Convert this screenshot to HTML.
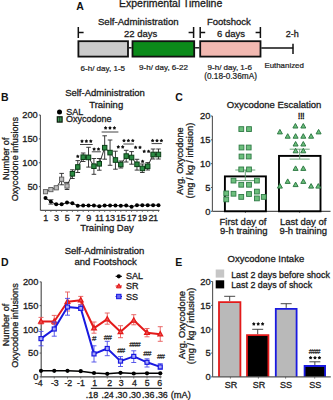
<!DOCTYPE html>
<html><head><meta charset="utf-8"><style>
html,body{margin:0;padding:0;background:#fff;width:333px;height:400px;overflow:hidden}
svg{display:block}
text{font-family:"Liberation Sans", sans-serif;}
</style></head><body>
<svg width="333" height="400" viewBox="0 0 333 400">
<rect x="0" y="0" width="333" height="400" fill="#fff"/>
<text x="76.30" y="9.90" font-size="10.5" text-anchor="start" font-weight="bold" fill="#111" stroke="#111" stroke-width="0.0" >A</text>
<text x="119.00" y="7.40" font-size="10.5" text-anchor="start" font-weight="normal" fill="#1c1c1c" stroke="#1c1c1c" stroke-width="0.3" >Experimental Timeline</text>
<text x="97.90" y="24.80" font-size="9.65" text-anchor="start" font-weight="normal" fill="#1c1c1c" stroke="#1c1c1c" stroke-width="0.3" >Self-Administration</text>
<text x="140.60" y="37.00" font-size="9.5" text-anchor="middle" font-weight="normal" fill="#1c1c1c" stroke="#1c1c1c" stroke-width="0.3" >22 days</text>
<text x="207.00" y="25.00" font-size="9.5" text-anchor="start" font-weight="normal" fill="#1c1c1c" stroke="#1c1c1c" stroke-width="0.3" >Footshock</text>
<text x="231.00" y="37.00" font-size="9.5" text-anchor="middle" font-weight="normal" fill="#1c1c1c" stroke="#1c1c1c" stroke-width="0.3" >6 days</text>
<text x="292.20" y="37.10" font-size="9.0" text-anchor="middle" font-weight="normal" fill="#1c1c1c" stroke="#1c1c1c" stroke-width="0.3" >2-h</text>
<line x1="78.30" y1="27.00" x2="78.30" y2="38.00" stroke="#111" stroke-width="1.5" />
<line x1="78.30" y1="32.50" x2="83.60" y2="32.50" stroke="#111" stroke-width="1.5" />
<line x1="193.60" y1="27.00" x2="193.60" y2="38.00" stroke="#111" stroke-width="1.5" />
<line x1="188.60" y1="32.50" x2="193.60" y2="32.50" stroke="#111" stroke-width="1.5" />
<line x1="200.20" y1="27.00" x2="200.20" y2="38.00" stroke="#111" stroke-width="1.5" />
<line x1="200.20" y1="32.50" x2="205.20" y2="32.50" stroke="#111" stroke-width="1.5" />
<line x1="260.40" y1="27.00" x2="260.40" y2="38.00" stroke="#111" stroke-width="1.5" />
<line x1="255.60" y1="32.50" x2="260.40" y2="32.50" stroke="#111" stroke-width="1.5" />
<rect x="78.40" y="41.20" width="49.60" height="15.40" fill="#cbcbcb" stroke="#111" stroke-width="1.8" />
<rect x="132.50" y="41.20" width="61.70" height="15.40" fill="#0b8a1a" stroke="#111" stroke-width="1.8" />
<rect x="200.20" y="41.20" width="60.30" height="15.40" fill="#f2b9b1" stroke="#111" stroke-width="1.8" />
<line x1="128.90" y1="47.80" x2="131.60" y2="47.80" stroke="#111" stroke-width="1.4" />
<line x1="195.10" y1="47.80" x2="199.30" y2="47.80" stroke="#111" stroke-width="1.4" />
<line x1="261.30" y1="47.90" x2="293.20" y2="47.90" stroke="#111" stroke-width="1.5" />
<line x1="293.00" y1="43.80" x2="293.00" y2="54.00" stroke="#111" stroke-width="1.5" />
<text x="80.50" y="70.60" font-size="8.05" text-anchor="start" font-weight="normal" fill="#1c1c1c" stroke="#1c1c1c" stroke-width="0.22" >6-h/ day, 1-5</text>
<text x="139.10" y="70.20" font-size="8.0" text-anchor="start" font-weight="normal" fill="#1c1c1c" stroke="#1c1c1c" stroke-width="0.22" >9-h/ day, 6-22</text>
<text x="207.60" y="70.20" font-size="8.0" text-anchor="start" font-weight="normal" fill="#1c1c1c" stroke="#1c1c1c" stroke-width="0.22" >9-h/ day, 1-6</text>
<text x="204.20" y="79.30" font-size="8.25" text-anchor="start" font-weight="normal" fill="#1c1c1c" stroke="#1c1c1c" stroke-width="0.22" >(0.18-0.36mA)</text>
<text x="264.40" y="68.10" font-size="7.9" text-anchor="start" font-weight="normal" fill="#1c1c1c" stroke="#1c1c1c" stroke-width="0.22" >Euthanized</text>
<text x="0.90" y="100.60" font-size="10.5" text-anchor="start" font-weight="bold" fill="#111" stroke="#111" stroke-width="0.0" >B</text>
<text x="105.00" y="96.00" font-size="9.5" text-anchor="middle" font-weight="normal" fill="#1c1c1c" stroke="#1c1c1c" stroke-width="0.3" >Self-Administration</text>
<text x="106.20" y="107.70" font-size="9.5" text-anchor="middle" font-weight="normal" fill="#1c1c1c" stroke="#1c1c1c" stroke-width="0.3" >Training</text>
<circle cx="59.50" cy="112.00" r="2.5" fill="#000" stroke="none" stroke-width="1"/>
<rect x="57.30" y="116.80" width="4.80" height="5.30" fill="#3a9a55" stroke="#0a1a0a" stroke-width="1.2" />
<line x1="59.70" y1="116.80" x2="59.70" y2="122.10" stroke="#222" stroke-width="0.8" />
<text x="66.20" y="114.60" font-size="9.0" text-anchor="start" font-weight="normal" fill="#1c1c1c" stroke="#1c1c1c" stroke-width="0.3" >SAL</text>
<text x="65.90" y="122.20" font-size="9.0" text-anchor="start" font-weight="normal" fill="#1c1c1c" stroke="#1c1c1c" stroke-width="0.3" >Oxycodone</text>
<text x="0" y="0" font-size="9.1" text-anchor="middle" fill="#1c1c1c" stroke="#1c1c1c" stroke-width="0.3" transform="translate(8.60,158.80) rotate(-90)">Number of</text>
<text x="0" y="0" font-size="9.1" text-anchor="middle" fill="#1c1c1c" stroke="#1c1c1c" stroke-width="0.3" transform="translate(18.00,159.10) rotate(-90)">Oxycodone infusions</text>
<line x1="40.40" y1="115.00" x2="40.40" y2="210.40" stroke="#555" stroke-width="1.1" />
<line x1="40.40" y1="210.40" x2="159.50" y2="210.40" stroke="#555" stroke-width="1.2" />
<line x1="38.90" y1="186.62" x2="40.40" y2="186.62" stroke="#555" stroke-width="1.0" />
<text x="37.80" y="189.93" font-size="9.3" text-anchor="end" font-weight="normal" fill="#1c1c1c" stroke="#1c1c1c" stroke-width="0.3" >50</text>
<line x1="38.90" y1="162.75" x2="40.40" y2="162.75" stroke="#555" stroke-width="1.0" />
<text x="37.80" y="166.05" font-size="9.3" text-anchor="end" font-weight="normal" fill="#1c1c1c" stroke="#1c1c1c" stroke-width="0.3" >100</text>
<line x1="38.90" y1="138.88" x2="40.40" y2="138.88" stroke="#555" stroke-width="1.0" />
<text x="37.80" y="142.18" font-size="9.3" text-anchor="end" font-weight="normal" fill="#1c1c1c" stroke="#1c1c1c" stroke-width="0.3" >150</text>
<line x1="38.90" y1="115.00" x2="40.40" y2="115.00" stroke="#555" stroke-width="1.0" />
<text x="37.80" y="118.30" font-size="9.3" text-anchor="end" font-weight="normal" fill="#1c1c1c" stroke="#1c1c1c" stroke-width="0.3" >200</text>
<line x1="45.50" y1="210.40" x2="45.50" y2="212.00" stroke="#555" stroke-width="0.8" />
<line x1="50.88" y1="210.40" x2="50.88" y2="212.00" stroke="#555" stroke-width="0.8" />
<line x1="56.26" y1="210.40" x2="56.26" y2="212.00" stroke="#555" stroke-width="0.8" />
<line x1="61.64" y1="210.40" x2="61.64" y2="212.00" stroke="#555" stroke-width="0.8" />
<line x1="67.02" y1="210.40" x2="67.02" y2="212.00" stroke="#555" stroke-width="0.8" />
<line x1="72.40" y1="210.40" x2="72.40" y2="212.00" stroke="#555" stroke-width="0.8" />
<line x1="77.78" y1="210.40" x2="77.78" y2="212.00" stroke="#555" stroke-width="0.8" />
<line x1="83.16" y1="210.40" x2="83.16" y2="212.00" stroke="#555" stroke-width="0.8" />
<line x1="88.54" y1="210.40" x2="88.54" y2="212.00" stroke="#555" stroke-width="0.8" />
<line x1="93.92" y1="210.40" x2="93.92" y2="212.00" stroke="#555" stroke-width="0.8" />
<line x1="99.30" y1="210.40" x2="99.30" y2="212.00" stroke="#555" stroke-width="0.8" />
<line x1="104.68" y1="210.40" x2="104.68" y2="212.00" stroke="#555" stroke-width="0.8" />
<line x1="110.06" y1="210.40" x2="110.06" y2="212.00" stroke="#555" stroke-width="0.8" />
<line x1="115.44" y1="210.40" x2="115.44" y2="212.00" stroke="#555" stroke-width="0.8" />
<line x1="120.82" y1="210.40" x2="120.82" y2="212.00" stroke="#555" stroke-width="0.8" />
<line x1="126.20" y1="210.40" x2="126.20" y2="212.00" stroke="#555" stroke-width="0.8" />
<line x1="131.58" y1="210.40" x2="131.58" y2="212.00" stroke="#555" stroke-width="0.8" />
<line x1="136.96" y1="210.40" x2="136.96" y2="212.00" stroke="#555" stroke-width="0.8" />
<line x1="142.34" y1="210.40" x2="142.34" y2="212.00" stroke="#555" stroke-width="0.8" />
<line x1="147.72" y1="210.40" x2="147.72" y2="212.00" stroke="#555" stroke-width="0.8" />
<line x1="153.10" y1="210.40" x2="153.10" y2="212.00" stroke="#555" stroke-width="0.8" />
<line x1="158.48" y1="210.40" x2="158.48" y2="212.00" stroke="#555" stroke-width="0.8" />
<text x="45.50" y="220.70" font-size="9.0" text-anchor="middle" font-weight="normal" fill="#1c1c1c" stroke="#1c1c1c" stroke-width="0.3" letter-spacing="-0.3">1</text>
<text x="56.26" y="220.70" font-size="9.0" text-anchor="middle" font-weight="normal" fill="#1c1c1c" stroke="#1c1c1c" stroke-width="0.3" letter-spacing="-0.3">3</text>
<text x="67.02" y="220.70" font-size="9.0" text-anchor="middle" font-weight="normal" fill="#1c1c1c" stroke="#1c1c1c" stroke-width="0.3" letter-spacing="-0.3">5</text>
<text x="77.78" y="220.70" font-size="9.0" text-anchor="middle" font-weight="normal" fill="#1c1c1c" stroke="#1c1c1c" stroke-width="0.3" letter-spacing="-0.3">7</text>
<text x="88.54" y="220.70" font-size="9.0" text-anchor="middle" font-weight="normal" fill="#1c1c1c" stroke="#1c1c1c" stroke-width="0.3" letter-spacing="-0.3">9</text>
<text x="99.30" y="220.70" font-size="9.0" text-anchor="middle" font-weight="normal" fill="#1c1c1c" stroke="#1c1c1c" stroke-width="0.3" letter-spacing="-0.3">11</text>
<text x="110.06" y="220.70" font-size="9.0" text-anchor="middle" font-weight="normal" fill="#1c1c1c" stroke="#1c1c1c" stroke-width="0.3" letter-spacing="-0.3">13</text>
<text x="120.82" y="220.70" font-size="9.0" text-anchor="middle" font-weight="normal" fill="#1c1c1c" stroke="#1c1c1c" stroke-width="0.3" letter-spacing="-0.3">15</text>
<text x="131.58" y="220.70" font-size="9.0" text-anchor="middle" font-weight="normal" fill="#1c1c1c" stroke="#1c1c1c" stroke-width="0.3" letter-spacing="-0.3">17</text>
<text x="142.34" y="220.70" font-size="9.0" text-anchor="middle" font-weight="normal" fill="#1c1c1c" stroke="#1c1c1c" stroke-width="0.3" letter-spacing="-0.3">19</text>
<text x="153.10" y="220.70" font-size="9.0" text-anchor="middle" font-weight="normal" fill="#1c1c1c" stroke="#1c1c1c" stroke-width="0.3" letter-spacing="-0.3">21</text>
<text x="107.00" y="231.00" font-size="9.5" text-anchor="middle" font-weight="normal" fill="#1c1c1c" stroke="#1c1c1c" stroke-width="0.3" >Training Day</text>
<polyline points="45.50,198.00 50.88,201.80 56.26,204.30 61.64,204.30 67.02,202.50 72.40,203.30 77.78,205.80 83.16,205.50 88.54,205.50 93.92,205.50 99.30,206.30 104.68,205.50 110.06,205.50 115.44,205.50 120.82,205.80 126.20,205.50 131.58,206.80 136.96,205.20 142.34,205.20 147.72,205.20 153.10,205.20 158.48,205.20" fill="none" stroke="#111" stroke-width="1.0" stroke-linejoin="round" />
<line x1="48.38" y1="199.60" x2="53.38" y2="199.60" stroke="#333" stroke-width="0.8" />
<line x1="48.38" y1="204.20" x2="53.38" y2="204.20" stroke="#333" stroke-width="0.8" />
<circle cx="45.50" cy="198.00" r="2.0" fill="#000" stroke="none" stroke-width="1"/>
<circle cx="50.88" cy="201.80" r="2.0" fill="#000" stroke="none" stroke-width="1"/>
<circle cx="56.26" cy="204.30" r="2.0" fill="#000" stroke="none" stroke-width="1"/>
<circle cx="61.64" cy="204.30" r="2.0" fill="#000" stroke="none" stroke-width="1"/>
<circle cx="67.02" cy="202.50" r="2.0" fill="#000" stroke="none" stroke-width="1"/>
<circle cx="72.40" cy="203.30" r="2.0" fill="#000" stroke="none" stroke-width="1"/>
<circle cx="77.78" cy="205.80" r="2.0" fill="#000" stroke="none" stroke-width="1"/>
<circle cx="83.16" cy="205.50" r="2.0" fill="#000" stroke="none" stroke-width="1"/>
<circle cx="88.54" cy="205.50" r="2.0" fill="#000" stroke="none" stroke-width="1"/>
<circle cx="93.92" cy="205.50" r="2.0" fill="#000" stroke="none" stroke-width="1"/>
<circle cx="99.30" cy="206.30" r="2.0" fill="#000" stroke="none" stroke-width="1"/>
<circle cx="104.68" cy="205.50" r="2.0" fill="#000" stroke="none" stroke-width="1"/>
<circle cx="110.06" cy="205.50" r="2.0" fill="#000" stroke="none" stroke-width="1"/>
<circle cx="115.44" cy="205.50" r="2.0" fill="#000" stroke="none" stroke-width="1"/>
<circle cx="120.82" cy="205.80" r="2.0" fill="#000" stroke="none" stroke-width="1"/>
<circle cx="126.20" cy="205.50" r="2.0" fill="#000" stroke="none" stroke-width="1"/>
<circle cx="131.58" cy="206.80" r="2.0" fill="#000" stroke="none" stroke-width="1"/>
<circle cx="136.96" cy="205.20" r="2.0" fill="#000" stroke="none" stroke-width="1"/>
<circle cx="142.34" cy="205.20" r="2.0" fill="#000" stroke="none" stroke-width="1"/>
<circle cx="147.72" cy="205.20" r="2.0" fill="#000" stroke="none" stroke-width="1"/>
<circle cx="153.10" cy="205.20" r="2.0" fill="#000" stroke="none" stroke-width="1"/>
<circle cx="158.48" cy="205.20" r="2.0" fill="#000" stroke="none" stroke-width="1"/>
<polyline points="45.50,191.70 50.88,189.60 56.26,187.80 61.64,179.20 67.02,186.00 72.40,173.80 77.78,167.00 83.16,157.20 88.54,157.40 93.92,166.20 99.30,163.80 104.68,147.70 110.06,152.60 115.44,160.00 120.82,164.50 126.20,156.10 131.58,157.50 136.96,164.30 142.34,168.40 147.72,166.30 153.10,154.50 158.48,154.50" fill="none" stroke="#1a1a1a" stroke-width="0.9" stroke-linejoin="round" />
<line x1="61.64" y1="173.40" x2="61.64" y2="184.80" stroke="#262626" stroke-width="0.9" />
<line x1="59.34" y1="173.40" x2="63.94" y2="173.40" stroke="#262626" stroke-width="0.9" />
<line x1="59.34" y1="184.80" x2="63.94" y2="184.80" stroke="#262626" stroke-width="0.9" />
<line x1="67.02" y1="182.40" x2="67.02" y2="189.50" stroke="#262626" stroke-width="0.9" />
<line x1="64.72" y1="182.40" x2="69.32" y2="182.40" stroke="#262626" stroke-width="0.9" />
<line x1="64.72" y1="189.50" x2="69.32" y2="189.50" stroke="#262626" stroke-width="0.9" />
<line x1="72.40" y1="169.80" x2="72.40" y2="178.50" stroke="#262626" stroke-width="0.9" />
<line x1="70.10" y1="169.80" x2="74.70" y2="169.80" stroke="#262626" stroke-width="0.9" />
<line x1="70.10" y1="178.50" x2="74.70" y2="178.50" stroke="#262626" stroke-width="0.9" />
<line x1="77.78" y1="160.60" x2="77.78" y2="172.50" stroke="#262626" stroke-width="0.9" />
<line x1="75.48" y1="160.60" x2="80.08" y2="160.60" stroke="#262626" stroke-width="0.9" />
<line x1="75.48" y1="172.50" x2="80.08" y2="172.50" stroke="#262626" stroke-width="0.9" />
<line x1="83.16" y1="153.00" x2="83.16" y2="161.50" stroke="#262626" stroke-width="0.9" />
<line x1="80.86" y1="153.00" x2="85.46" y2="153.00" stroke="#262626" stroke-width="0.9" />
<line x1="80.86" y1="161.50" x2="85.46" y2="161.50" stroke="#262626" stroke-width="0.9" />
<line x1="88.54" y1="147.30" x2="88.54" y2="167.10" stroke="#262626" stroke-width="0.9" />
<line x1="86.24" y1="147.30" x2="90.84" y2="147.30" stroke="#262626" stroke-width="0.9" />
<line x1="86.24" y1="167.10" x2="90.84" y2="167.10" stroke="#262626" stroke-width="0.9" />
<line x1="93.92" y1="158.50" x2="93.92" y2="174.30" stroke="#262626" stroke-width="0.9" />
<line x1="91.62" y1="158.50" x2="96.22" y2="158.50" stroke="#262626" stroke-width="0.9" />
<line x1="91.62" y1="174.30" x2="96.22" y2="174.30" stroke="#262626" stroke-width="0.9" />
<line x1="99.30" y1="158.50" x2="99.30" y2="170.20" stroke="#262626" stroke-width="0.9" />
<line x1="97.00" y1="158.50" x2="101.60" y2="158.50" stroke="#262626" stroke-width="0.9" />
<line x1="97.00" y1="170.20" x2="101.60" y2="170.20" stroke="#262626" stroke-width="0.9" />
<line x1="104.68" y1="135.80" x2="104.68" y2="159.20" stroke="#262626" stroke-width="0.9" />
<line x1="102.38" y1="135.80" x2="106.98" y2="135.80" stroke="#262626" stroke-width="0.9" />
<line x1="102.38" y1="159.20" x2="106.98" y2="159.20" stroke="#262626" stroke-width="0.9" />
<line x1="110.06" y1="140.00" x2="110.06" y2="165.30" stroke="#262626" stroke-width="0.9" />
<line x1="107.76" y1="140.00" x2="112.36" y2="140.00" stroke="#262626" stroke-width="0.9" />
<line x1="107.76" y1="165.30" x2="112.36" y2="165.30" stroke="#262626" stroke-width="0.9" />
<line x1="115.44" y1="151.20" x2="115.44" y2="169.20" stroke="#262626" stroke-width="0.9" />
<line x1="113.14" y1="151.20" x2="117.74" y2="151.20" stroke="#262626" stroke-width="0.9" />
<line x1="113.14" y1="169.20" x2="117.74" y2="169.20" stroke="#262626" stroke-width="0.9" />
<line x1="120.82" y1="161.00" x2="120.82" y2="168.00" stroke="#262626" stroke-width="0.9" />
<line x1="118.52" y1="161.00" x2="123.12" y2="161.00" stroke="#262626" stroke-width="0.9" />
<line x1="118.52" y1="168.00" x2="123.12" y2="168.00" stroke="#262626" stroke-width="0.9" />
<line x1="126.20" y1="150.30" x2="126.20" y2="162.00" stroke="#262626" stroke-width="0.9" />
<line x1="123.90" y1="150.30" x2="128.50" y2="150.30" stroke="#262626" stroke-width="0.9" />
<line x1="123.90" y1="162.00" x2="128.50" y2="162.00" stroke="#262626" stroke-width="0.9" />
<line x1="131.58" y1="151.60" x2="131.58" y2="164.20" stroke="#262626" stroke-width="0.9" />
<line x1="129.28" y1="151.60" x2="133.88" y2="151.60" stroke="#262626" stroke-width="0.9" />
<line x1="129.28" y1="164.20" x2="133.88" y2="164.20" stroke="#262626" stroke-width="0.9" />
<line x1="136.96" y1="159.30" x2="136.96" y2="170.10" stroke="#262626" stroke-width="0.9" />
<line x1="134.66" y1="159.30" x2="139.26" y2="159.30" stroke="#262626" stroke-width="0.9" />
<line x1="134.66" y1="170.10" x2="139.26" y2="170.10" stroke="#262626" stroke-width="0.9" />
<line x1="142.34" y1="164.00" x2="142.34" y2="172.50" stroke="#262626" stroke-width="0.9" />
<line x1="140.04" y1="164.00" x2="144.64" y2="164.00" stroke="#262626" stroke-width="0.9" />
<line x1="140.04" y1="172.50" x2="144.64" y2="172.50" stroke="#262626" stroke-width="0.9" />
<line x1="147.72" y1="162.60" x2="147.72" y2="170.00" stroke="#262626" stroke-width="0.9" />
<line x1="145.42" y1="162.60" x2="150.02" y2="162.60" stroke="#262626" stroke-width="0.9" />
<line x1="145.42" y1="170.00" x2="150.02" y2="170.00" stroke="#262626" stroke-width="0.9" />
<line x1="153.10" y1="149.00" x2="153.10" y2="159.00" stroke="#262626" stroke-width="0.9" />
<line x1="150.80" y1="149.00" x2="155.40" y2="149.00" stroke="#262626" stroke-width="0.9" />
<line x1="150.80" y1="159.00" x2="155.40" y2="159.00" stroke="#262626" stroke-width="0.9" />
<line x1="158.48" y1="149.00" x2="158.48" y2="159.00" stroke="#262626" stroke-width="0.9" />
<line x1="156.18" y1="149.00" x2="160.78" y2="149.00" stroke="#262626" stroke-width="0.9" />
<line x1="156.18" y1="159.00" x2="160.78" y2="159.00" stroke="#262626" stroke-width="0.9" />
<rect x="43.40" y="189.60" width="4.20" height="4.20" fill="#bdbdbd" stroke="#5a5a5a" stroke-width="0.9" />
<rect x="48.78" y="187.50" width="4.20" height="4.20" fill="#bdbdbd" stroke="#5a5a5a" stroke-width="0.9" />
<rect x="54.16" y="185.70" width="4.20" height="4.20" fill="#bdbdbd" stroke="#5a5a5a" stroke-width="0.9" />
<rect x="59.54" y="177.10" width="4.20" height="4.20" fill="#bdbdbd" stroke="#5a5a5a" stroke-width="0.9" />
<rect x="64.92" y="183.90" width="4.20" height="4.20" fill="#bdbdbd" stroke="#5a5a5a" stroke-width="0.9" />
<rect x="70.20" y="171.50" width="4.40" height="4.60" fill="#2a8a42" stroke="#0b3d16" stroke-width="1.0" />
<rect x="75.58" y="164.70" width="4.40" height="4.60" fill="#2a8a42" stroke="#0b3d16" stroke-width="1.0" />
<rect x="80.96" y="154.90" width="4.40" height="4.60" fill="#2a8a42" stroke="#0b3d16" stroke-width="1.0" />
<rect x="86.34" y="155.10" width="4.40" height="4.60" fill="#2a8a42" stroke="#0b3d16" stroke-width="1.0" />
<rect x="91.72" y="163.90" width="4.40" height="4.60" fill="#2a8a42" stroke="#0b3d16" stroke-width="1.0" />
<rect x="97.10" y="161.50" width="4.40" height="4.60" fill="#2a8a42" stroke="#0b3d16" stroke-width="1.0" />
<rect x="102.48" y="145.40" width="4.40" height="4.60" fill="#2a8a42" stroke="#0b3d16" stroke-width="1.0" />
<rect x="107.86" y="150.30" width="4.40" height="4.60" fill="#2a8a42" stroke="#0b3d16" stroke-width="1.0" />
<rect x="113.24" y="157.70" width="4.40" height="4.60" fill="#2a8a42" stroke="#0b3d16" stroke-width="1.0" />
<rect x="118.62" y="162.20" width="4.40" height="4.60" fill="#2a8a42" stroke="#0b3d16" stroke-width="1.0" />
<rect x="124.00" y="153.80" width="4.40" height="4.60" fill="#2a8a42" stroke="#0b3d16" stroke-width="1.0" />
<rect x="129.38" y="155.20" width="4.40" height="4.60" fill="#2a8a42" stroke="#0b3d16" stroke-width="1.0" />
<rect x="134.76" y="162.00" width="4.40" height="4.60" fill="#2a8a42" stroke="#0b3d16" stroke-width="1.0" />
<rect x="140.14" y="166.10" width="4.40" height="4.60" fill="#2a8a42" stroke="#0b3d16" stroke-width="1.0" />
<rect x="145.52" y="164.00" width="4.40" height="4.60" fill="#2a8a42" stroke="#0b3d16" stroke-width="1.0" />
<rect x="150.90" y="152.20" width="4.40" height="4.60" fill="#2a8a42" stroke="#0b3d16" stroke-width="1.0" />
<rect x="156.28" y="152.20" width="4.40" height="4.60" fill="#2a8a42" stroke="#0b3d16" stroke-width="1.0" />
<polygon points="77.78,154.50 78.48,155.44 79.59,155.81 78.91,156.77 78.90,157.94 77.78,157.59 76.66,157.94 76.65,156.77 75.97,155.81 77.08,155.44" fill="#111"/>
<polygon points="82.00,139.30 82.70,140.24 83.81,140.61 83.13,141.57 83.12,142.74 82.00,142.39 80.88,142.74 80.87,141.57 80.19,140.61 81.30,140.24" fill="#111"/>
<polygon points="86.40,139.30 87.10,140.24 88.21,140.61 87.53,141.57 87.52,142.74 86.40,142.39 85.28,142.74 85.27,141.57 84.59,140.61 85.70,140.24" fill="#111"/>
<polygon points="90.80,139.30 91.50,140.24 92.61,140.61 91.93,141.57 91.92,142.74 90.80,142.39 89.68,142.74 89.67,141.57 88.99,140.61 90.10,140.24" fill="#111"/>
<line x1="80.00" y1="144.50" x2="92.70" y2="144.50" stroke="#444" stroke-width="1.0" />
<polygon points="94.10,147.20 94.80,148.14 95.91,148.51 95.23,149.47 95.22,150.64 94.10,150.29 92.98,150.64 92.97,149.47 92.29,148.51 93.40,148.14" fill="#111"/>
<polygon points="98.50,147.20 99.20,148.14 100.31,148.51 99.63,149.47 99.62,150.64 98.50,150.29 97.38,150.64 97.37,149.47 96.69,148.51 97.80,148.14" fill="#111"/>
<line x1="91.80" y1="151.80" x2="100.80" y2="151.80" stroke="#444" stroke-width="1.0" />
<polygon points="105.60,126.10 106.30,127.04 107.41,127.41 106.73,128.37 106.72,129.54 105.60,129.19 104.48,129.54 104.47,128.37 103.79,127.41 104.90,127.04" fill="#111"/>
<polygon points="110.00,126.10 110.70,127.04 111.81,127.41 111.13,128.37 111.12,129.54 110.00,129.19 108.88,129.54 108.87,128.37 108.19,127.41 109.30,127.04" fill="#111"/>
<polygon points="114.40,126.10 115.10,127.04 116.21,127.41 115.53,128.37 115.52,129.54 114.40,129.19 113.28,129.54 113.27,128.37 112.59,127.41 113.70,127.04" fill="#111"/>
<line x1="101.60" y1="132.00" x2="118.40" y2="132.00" stroke="#444" stroke-width="1.0" />
<polygon points="118.30,145.10 119.00,146.04 120.11,146.41 119.43,147.37 119.42,148.54 118.30,148.19 117.18,148.54 117.17,147.37 116.49,146.41 117.60,146.04" fill="#111"/>
<polygon points="122.70,145.10 123.40,146.04 124.51,146.41 123.83,147.37 123.82,148.54 122.70,148.19 121.58,148.54 121.57,147.37 120.89,146.41 122.00,146.04" fill="#111"/>
<polygon points="124.00,138.70 124.70,139.64 125.81,140.01 125.13,140.97 125.12,142.14 124.00,141.79 122.88,142.14 122.87,140.97 122.19,140.01 123.30,139.64" fill="#111"/>
<polygon points="128.40,138.70 129.10,139.64 130.21,140.01 129.53,140.97 129.52,142.14 128.40,141.79 127.28,142.14 127.27,140.97 126.59,140.01 127.70,139.64" fill="#111"/>
<polygon points="132.80,138.70 133.50,139.64 134.61,140.01 133.93,140.97 133.92,142.14 132.80,141.79 131.68,142.14 131.67,140.97 130.99,140.01 132.10,139.64" fill="#111"/>
<line x1="123.40" y1="144.00" x2="133.80" y2="144.00" stroke="#444" stroke-width="1.0" />
<polygon points="135.60,145.50 136.30,146.44 137.41,146.81 136.73,147.77 136.72,148.94 135.60,148.59 134.48,148.94 134.47,147.77 133.79,146.81 134.90,146.44" fill="#111"/>
<polygon points="140.00,145.50 140.70,146.44 141.81,146.81 141.13,147.77 141.12,148.94 140.00,148.59 138.88,148.94 138.87,147.77 138.19,146.81 139.30,146.44" fill="#111"/>
<polygon points="144.20,149.50 144.90,150.44 146.01,150.81 145.33,151.77 145.32,152.94 144.20,152.59 143.08,152.94 143.07,151.77 142.39,150.81 143.50,150.44" fill="#111"/>
<polygon points="148.60,149.50 149.30,150.44 150.41,150.81 149.73,151.77 149.72,152.94 148.60,152.59 147.48,152.94 147.47,151.77 146.79,150.81 147.90,150.44" fill="#111"/>
<polygon points="142.60,159.50 143.30,160.44 144.41,160.81 143.73,161.77 143.72,162.94 142.60,162.59 141.48,162.94 141.47,161.77 140.79,160.81 141.90,160.44" fill="#111"/>
<polygon points="152.60,138.70 153.30,139.64 154.41,140.01 153.73,140.97 153.72,142.14 152.60,141.79 151.48,142.14 151.47,140.97 150.79,140.01 151.90,139.64" fill="#111"/>
<polygon points="157.00,138.70 157.70,139.64 158.81,140.01 158.13,140.97 158.12,142.14 157.00,141.79 155.88,142.14 155.87,140.97 155.19,140.01 156.30,139.64" fill="#111"/>
<polygon points="161.40,138.70 162.10,139.64 163.21,140.01 162.53,140.97 162.52,142.14 161.40,141.79 160.28,142.14 160.27,140.97 159.59,140.01 160.70,139.64" fill="#111"/>
<line x1="151.60" y1="143.60" x2="161.80" y2="143.60" stroke="#444" stroke-width="1.0" />
<text x="175.30" y="100.60" font-size="10.5" text-anchor="start" font-weight="bold" fill="#111" stroke="#111" stroke-width="0.0" >C</text>
<text x="274.10" y="107.90" font-size="9.5" text-anchor="middle" font-weight="normal" fill="#1c1c1c" stroke="#1c1c1c" stroke-width="0.3" >Oxycodone Escalation</text>
<text x="0" y="0" font-size="9.2" text-anchor="middle" fill="#1c1c1c" stroke="#1c1c1c" stroke-width="0.3" transform="translate(183.20,161.00) rotate(-90)">Avg. Oxycodone</text>
<text x="0" y="0" font-size="9.2" text-anchor="middle" fill="#1c1c1c" stroke="#1c1c1c" stroke-width="0.3" transform="translate(192.80,160.60) rotate(-90)">(mg / kg / infusion)</text>
<line x1="212.40" y1="116.00" x2="212.40" y2="211.30" stroke="#555" stroke-width="1.1" />
<line x1="212.40" y1="211.30" x2="330.50" y2="211.30" stroke="#555" stroke-width="1.2" />
<line x1="210.90" y1="211.30" x2="212.40" y2="211.30" stroke="#555" stroke-width="1.0" />
<text x="210.50" y="214.65" font-size="9.4" text-anchor="end" font-weight="normal" fill="#1c1c1c" stroke="#1c1c1c" stroke-width="0.3" >0</text>
<line x1="210.90" y1="187.48" x2="212.40" y2="187.48" stroke="#555" stroke-width="1.0" />
<text x="210.50" y="190.83" font-size="9.4" text-anchor="end" font-weight="normal" fill="#1c1c1c" stroke="#1c1c1c" stroke-width="0.3" >5</text>
<line x1="210.90" y1="163.65" x2="212.40" y2="163.65" stroke="#555" stroke-width="1.0" />
<text x="210.50" y="167.00" font-size="9.4" text-anchor="end" font-weight="normal" fill="#1c1c1c" stroke="#1c1c1c" stroke-width="0.3" >10</text>
<line x1="210.90" y1="139.83" x2="212.40" y2="139.83" stroke="#555" stroke-width="1.0" />
<text x="210.50" y="143.18" font-size="9.4" text-anchor="end" font-weight="normal" fill="#1c1c1c" stroke="#1c1c1c" stroke-width="0.3" >15</text>
<line x1="210.90" y1="116.00" x2="212.40" y2="116.00" stroke="#555" stroke-width="1.0" />
<text x="210.50" y="119.35" font-size="9.4" text-anchor="end" font-weight="normal" fill="#1c1c1c" stroke="#1c1c1c" stroke-width="0.3" >20</text>
<line x1="245.40" y1="211.30" x2="245.40" y2="213.00" stroke="#555" stroke-width="0.8" />
<line x1="299.70" y1="211.30" x2="299.70" y2="213.00" stroke="#555" stroke-width="0.8" />
<rect x="224.90" y="176.40" width="41.00" height="34.90" fill="none" stroke="#000" stroke-width="1.9" />
<rect x="279.00" y="155.90" width="41.50" height="55.40" fill="none" stroke="#000" stroke-width="1.9" />
<line x1="245.30" y1="170.00" x2="245.30" y2="180.60" stroke="#5a9a6a" stroke-width="0.9" />
<line x1="235.30" y1="170.00" x2="255.30" y2="170.00" stroke="#5a9a6a" stroke-width="0.9" />
<line x1="235.30" y1="180.60" x2="255.30" y2="180.60" stroke="#5a9a6a" stroke-width="0.9" />
<rect x="238.90" y="126.70" width="4.80" height="4.80" fill="#6cbf7c" stroke="#2f7a45" stroke-width="0.9" />
<rect x="246.60" y="126.70" width="4.80" height="4.80" fill="#6cbf7c" stroke="#2f7a45" stroke-width="0.9" />
<rect x="239.10" y="145.10" width="4.80" height="4.80" fill="#6cbf7c" stroke="#2f7a45" stroke-width="0.9" />
<rect x="246.30" y="145.10" width="4.80" height="4.80" fill="#6cbf7c" stroke="#2f7a45" stroke-width="0.9" />
<rect x="239.10" y="154.10" width="4.80" height="4.80" fill="#6cbf7c" stroke="#2f7a45" stroke-width="0.9" />
<rect x="246.30" y="154.10" width="4.80" height="4.80" fill="#6cbf7c" stroke="#2f7a45" stroke-width="0.9" />
<rect x="238.85" y="167.00" width="4.80" height="4.80" fill="#6cbf7c" stroke="#2f7a45" stroke-width="0.9" />
<rect x="246.60" y="167.00" width="4.80" height="4.80" fill="#6cbf7c" stroke="#2f7a45" stroke-width="0.9" />
<rect x="231.10" y="178.20" width="4.80" height="4.80" fill="#6cbf7c" stroke="#2f7a45" stroke-width="0.9" />
<rect x="254.50" y="178.20" width="4.80" height="4.80" fill="#6cbf7c" stroke="#2f7a45" stroke-width="0.9" />
<rect x="238.85" y="182.35" width="4.80" height="4.80" fill="#6cbf7c" stroke="#2f7a45" stroke-width="0.9" />
<rect x="246.60" y="182.35" width="4.80" height="4.80" fill="#6cbf7c" stroke="#2f7a45" stroke-width="0.9" />
<rect x="223.85" y="191.00" width="4.80" height="4.80" fill="#6cbf7c" stroke="#2f7a45" stroke-width="0.9" />
<rect x="223.85" y="197.00" width="4.80" height="4.80" fill="#6cbf7c" stroke="#2f7a45" stroke-width="0.9" />
<rect x="231.10" y="191.35" width="4.80" height="4.80" fill="#6cbf7c" stroke="#2f7a45" stroke-width="0.9" />
<rect x="238.85" y="194.50" width="4.80" height="4.80" fill="#6cbf7c" stroke="#2f7a45" stroke-width="0.9" />
<rect x="246.60" y="191.60" width="4.80" height="4.80" fill="#6cbf7c" stroke="#2f7a45" stroke-width="0.9" />
<rect x="254.50" y="189.20" width="4.80" height="4.80" fill="#6cbf7c" stroke="#2f7a45" stroke-width="0.9" />
<rect x="254.50" y="196.00" width="4.80" height="4.80" fill="#6cbf7c" stroke="#2f7a45" stroke-width="0.9" />
<rect x="261.35" y="194.50" width="4.80" height="4.80" fill="#6cbf7c" stroke="#2f7a45" stroke-width="0.9" />
<line x1="299.70" y1="149.20" x2="299.70" y2="159.10" stroke="#5a9a6a" stroke-width="0.9" />
<line x1="289.70" y1="149.20" x2="309.70" y2="149.20" stroke="#5a9a6a" stroke-width="0.9" />
<line x1="289.70" y1="159.10" x2="309.70" y2="159.10" stroke="#5a9a6a" stroke-width="0.9" />
<polygon points="295.40,123.50 292.90,128.00 297.90,128.00" fill="#6cbf7c" stroke="#2f7a45" stroke-width="1.0" stroke-linejoin="miter"/>
<polygon points="303.30,123.50 300.80,128.00 305.80,128.00" fill="#6cbf7c" stroke="#2f7a45" stroke-width="1.0" stroke-linejoin="miter"/>
<polygon points="279.90,129.40 277.40,133.90 282.40,133.90" fill="#6cbf7c" stroke="#2f7a45" stroke-width="1.0" stroke-linejoin="miter"/>
<polygon points="318.60,129.40 316.10,133.90 321.10,133.90" fill="#6cbf7c" stroke="#2f7a45" stroke-width="1.0" stroke-linejoin="miter"/>
<polygon points="287.70,133.70 285.20,138.20 290.20,138.20" fill="#6cbf7c" stroke="#2f7a45" stroke-width="1.0" stroke-linejoin="miter"/>
<polygon points="295.60,133.70 293.10,138.20 298.10,138.20" fill="#6cbf7c" stroke="#2f7a45" stroke-width="1.0" stroke-linejoin="miter"/>
<polygon points="303.30,133.70 300.80,138.20 305.80,138.20" fill="#6cbf7c" stroke="#2f7a45" stroke-width="1.0" stroke-linejoin="miter"/>
<polygon points="311.10,133.70 308.60,138.20 313.60,138.20" fill="#6cbf7c" stroke="#2f7a45" stroke-width="1.0" stroke-linejoin="miter"/>
<polygon points="295.60,141.50 293.10,146.00 298.10,146.00" fill="#6cbf7c" stroke="#2f7a45" stroke-width="1.0" stroke-linejoin="miter"/>
<polygon points="303.30,141.50 300.80,146.00 305.80,146.00" fill="#6cbf7c" stroke="#2f7a45" stroke-width="1.0" stroke-linejoin="miter"/>
<polygon points="295.60,148.30 293.10,152.80 298.10,152.80" fill="#6cbf7c" stroke="#2f7a45" stroke-width="1.0" stroke-linejoin="miter"/>
<polygon points="303.30,148.30 300.80,152.80 305.80,152.80" fill="#6cbf7c" stroke="#2f7a45" stroke-width="1.0" stroke-linejoin="miter"/>
<polygon points="295.60,165.90 293.10,170.40 298.10,170.40" fill="#6cbf7c" stroke="#2f7a45" stroke-width="1.0" stroke-linejoin="miter"/>
<polygon points="303.30,165.90 300.80,170.40 305.80,170.40" fill="#6cbf7c" stroke="#2f7a45" stroke-width="1.0" stroke-linejoin="miter"/>
<polygon points="287.70,178.90 285.20,183.40 290.20,183.40" fill="#6cbf7c" stroke="#2f7a45" stroke-width="1.0" stroke-linejoin="miter"/>
<polygon points="303.30,178.90 300.80,183.40 305.80,183.40" fill="#6cbf7c" stroke="#2f7a45" stroke-width="1.0" stroke-linejoin="miter"/>
<polygon points="295.60,182.10 293.10,186.60 298.10,186.60" fill="#6cbf7c" stroke="#2f7a45" stroke-width="1.0" stroke-linejoin="miter"/>
<polygon points="279.90,183.60 277.40,188.10 282.40,188.10" fill="#6cbf7c" stroke="#2f7a45" stroke-width="1.0" stroke-linejoin="miter"/>
<polygon points="311.10,183.60 308.60,188.10 313.60,188.10" fill="#6cbf7c" stroke="#2f7a45" stroke-width="1.0" stroke-linejoin="miter"/>
<polygon points="318.30,183.60 315.80,188.10 320.80,188.10" fill="#6cbf7c" stroke="#2f7a45" stroke-width="1.0" stroke-linejoin="miter"/>
<text x="301.00" y="118.60" font-size="9.6" text-anchor="middle" font-weight="normal" fill="#111" stroke="#111" stroke-width="0.3" letter-spacing="-0.5">!!!</text>
<text x="243.00" y="224.80" font-size="9.5" text-anchor="middle" font-weight="normal" fill="#1c1c1c" stroke="#1c1c1c" stroke-width="0.3" >First day of</text>
<text x="243.80" y="233.80" font-size="9.5" text-anchor="middle" font-weight="normal" fill="#1c1c1c" stroke="#1c1c1c" stroke-width="0.3" >9-h training</text>
<text x="303.20" y="224.80" font-size="9.5" text-anchor="middle" font-weight="normal" fill="#1c1c1c" stroke="#1c1c1c" stroke-width="0.3" >Last day of</text>
<text x="303.20" y="233.80" font-size="9.5" text-anchor="middle" font-weight="normal" fill="#1c1c1c" stroke="#1c1c1c" stroke-width="0.3" >9-h training</text>
<text x="0.90" y="266.30" font-size="10.5" text-anchor="start" font-weight="bold" fill="#111" stroke="#111" stroke-width="0.0" >D</text>
<text x="104.50" y="253.50" font-size="9.5" text-anchor="middle" font-weight="normal" fill="#1c1c1c" stroke="#1c1c1c" stroke-width="0.3" >Self-Administration</text>
<text x="105.60" y="264.60" font-size="9.5" text-anchor="middle" font-weight="normal" fill="#1c1c1c" stroke="#1c1c1c" stroke-width="0.3" >and Footshock</text>
<text x="0" y="0" font-size="9.1" text-anchor="middle" fill="#1c1c1c" stroke="#1c1c1c" stroke-width="0.3" transform="translate(8.60,325.00) rotate(-90)">Number of</text>
<text x="0" y="0" font-size="9.1" text-anchor="middle" fill="#1c1c1c" stroke="#1c1c1c" stroke-width="0.3" transform="translate(18.20,325.50) rotate(-90)">Oxycodone infusions</text>
<line x1="41.20" y1="281.80" x2="41.20" y2="376.80" stroke="#555" stroke-width="1.2" />
<line x1="41.20" y1="376.80" x2="161.50" y2="376.80" stroke="#444" stroke-width="1.3" />
<line x1="39.70" y1="376.80" x2="41.20" y2="376.80" stroke="#555" stroke-width="1.0" />
<text x="38.40" y="380.10" font-size="9.3" text-anchor="end" font-weight="normal" fill="#1c1c1c" stroke="#1c1c1c" stroke-width="0.3" >0</text>
<line x1="39.70" y1="353.07" x2="41.20" y2="353.07" stroke="#555" stroke-width="1.0" />
<text x="38.40" y="356.38" font-size="9.3" text-anchor="end" font-weight="normal" fill="#1c1c1c" stroke="#1c1c1c" stroke-width="0.3" >50</text>
<line x1="39.70" y1="329.35" x2="41.20" y2="329.35" stroke="#555" stroke-width="1.0" />
<text x="38.40" y="332.65" font-size="9.3" text-anchor="end" font-weight="normal" fill="#1c1c1c" stroke="#1c1c1c" stroke-width="0.3" >100</text>
<line x1="39.70" y1="305.62" x2="41.20" y2="305.62" stroke="#555" stroke-width="1.0" />
<text x="38.40" y="308.93" font-size="9.3" text-anchor="end" font-weight="normal" fill="#1c1c1c" stroke="#1c1c1c" stroke-width="0.3" >150</text>
<line x1="39.70" y1="281.90" x2="41.20" y2="281.90" stroke="#555" stroke-width="1.0" />
<text x="38.40" y="285.20" font-size="9.3" text-anchor="end" font-weight="normal" fill="#1c1c1c" stroke="#1c1c1c" stroke-width="0.3" >200</text>
<line x1="41.00" y1="376.80" x2="41.00" y2="378.50" stroke="#555" stroke-width="0.8" />
<text x="38.70" y="385.90" font-size="8.8" text-anchor="middle" font-weight="normal" fill="#1c1c1c" stroke="#1c1c1c" stroke-width="0.3" >-4</text>
<line x1="54.25" y1="376.80" x2="54.25" y2="378.50" stroke="#555" stroke-width="0.8" />
<text x="54.80" y="385.90" font-size="8.8" text-anchor="middle" font-weight="normal" fill="#1c1c1c" stroke="#1c1c1c" stroke-width="0.3" >-3</text>
<line x1="67.50" y1="376.80" x2="67.50" y2="378.50" stroke="#555" stroke-width="0.8" />
<text x="68.30" y="385.90" font-size="8.8" text-anchor="middle" font-weight="normal" fill="#1c1c1c" stroke="#1c1c1c" stroke-width="0.3" >-2</text>
<line x1="80.75" y1="376.80" x2="80.75" y2="378.50" stroke="#555" stroke-width="0.8" />
<text x="81.00" y="385.90" font-size="8.8" text-anchor="middle" font-weight="normal" fill="#1c1c1c" stroke="#1c1c1c" stroke-width="0.3" >-1</text>
<line x1="94.00" y1="376.80" x2="94.00" y2="378.50" stroke="#555" stroke-width="0.8" />
<text x="94.60" y="385.90" font-size="8.8" text-anchor="middle" font-weight="normal" fill="#1c1c1c" stroke="#1c1c1c" stroke-width="0.3" >1</text>
<line x1="107.25" y1="376.80" x2="107.25" y2="378.50" stroke="#555" stroke-width="0.8" />
<text x="109.60" y="385.90" font-size="8.8" text-anchor="middle" font-weight="normal" fill="#1c1c1c" stroke="#1c1c1c" stroke-width="0.3" >2</text>
<line x1="120.50" y1="376.80" x2="120.50" y2="378.50" stroke="#555" stroke-width="0.8" />
<text x="121.30" y="385.90" font-size="8.8" text-anchor="middle" font-weight="normal" fill="#1c1c1c" stroke="#1c1c1c" stroke-width="0.3" >3</text>
<line x1="133.75" y1="376.80" x2="133.75" y2="378.50" stroke="#555" stroke-width="0.8" />
<text x="134.40" y="385.90" font-size="8.8" text-anchor="middle" font-weight="normal" fill="#1c1c1c" stroke="#1c1c1c" stroke-width="0.3" >4</text>
<line x1="147.00" y1="376.80" x2="147.00" y2="378.50" stroke="#555" stroke-width="0.8" />
<text x="147.30" y="385.90" font-size="8.8" text-anchor="middle" font-weight="normal" fill="#1c1c1c" stroke="#1c1c1c" stroke-width="0.3" >5</text>
<line x1="160.25" y1="376.80" x2="160.25" y2="378.50" stroke="#555" stroke-width="0.8" />
<text x="159.60" y="385.90" font-size="8.8" text-anchor="middle" font-weight="normal" fill="#1c1c1c" stroke="#1c1c1c" stroke-width="0.3" >6</text>
<line x1="90.80" y1="388.40" x2="162.00" y2="388.40" stroke="#333" stroke-width="1.3" />
<text x="92.00" y="398.00" font-size="8.9" text-anchor="middle" font-weight="normal" fill="#1c1c1c" stroke="#1c1c1c" stroke-width="0.3" >.18</text>
<text x="107.60" y="398.00" font-size="8.9" text-anchor="middle" font-weight="normal" fill="#1c1c1c" stroke="#1c1c1c" stroke-width="0.3" >.24</text>
<text x="121.30" y="398.00" font-size="8.9" text-anchor="middle" font-weight="normal" fill="#1c1c1c" stroke="#1c1c1c" stroke-width="0.3" >.30</text>
<text x="134.80" y="398.00" font-size="8.9" text-anchor="middle" font-weight="normal" fill="#1c1c1c" stroke="#1c1c1c" stroke-width="0.3" >.30</text>
<text x="148.20" y="398.00" font-size="8.9" text-anchor="middle" font-weight="normal" fill="#1c1c1c" stroke="#1c1c1c" stroke-width="0.3" >.36</text>
<text x="161.60" y="398.00" font-size="8.9" text-anchor="middle" font-weight="normal" fill="#1c1c1c" stroke="#1c1c1c" stroke-width="0.3" >.36</text>
<text x="180.80" y="397.80" font-size="9.3" text-anchor="middle" font-weight="normal" fill="#1c1c1c" stroke="#1c1c1c" stroke-width="0.3" >(mA)</text>
<line x1="115.60" y1="276.30" x2="122.00" y2="276.30" stroke="#000" stroke-width="1.0" />
<circle cx="118.80" cy="276.30" r="2.1" fill="#000" stroke="none" stroke-width="1"/>
<text x="126.00" y="279.40" font-size="9.0" text-anchor="start" font-weight="normal" fill="#1c1c1c" stroke="#1c1c1c" stroke-width="0.3" >SAL</text>
<line x1="115.60" y1="286.00" x2="122.00" y2="286.00" stroke="#e01010" stroke-width="1.0" />
<polygon points="118.80,283.72 116.50,287.86 121.10,287.86" fill="#f04040" stroke="#e01010" stroke-width="1.0" stroke-linejoin="miter"/>
<text x="126.00" y="289.20" font-size="9.0" text-anchor="start" font-weight="normal" fill="#1c1c1c" stroke="#1c1c1c" stroke-width="0.3" >SR</text>
<line x1="115.60" y1="296.50" x2="122.00" y2="296.50" stroke="#1010e0" stroke-width="1.0" />
<rect x="116.60" y="294.30" width="4.40" height="4.40" fill="#6a6af0" stroke="#1515e0" stroke-width="1.0" />
<text x="126.00" y="299.60" font-size="9.0" text-anchor="start" font-weight="normal" fill="#1c1c1c" stroke="#1c1c1c" stroke-width="0.3" >SS</text>
<polyline points="41.00,370.80 54.25,370.80 67.50,370.80 80.75,371.20 94.00,373.00 107.25,373.80 120.50,372.80 133.75,373.50 147.00,373.30 160.25,373.30" fill="none" stroke="#000" stroke-width="1.5" stroke-linejoin="round" />
<circle cx="41.00" cy="370.80" r="2.1" fill="#000" stroke="none" stroke-width="1"/>
<circle cx="54.25" cy="370.80" r="2.1" fill="#000" stroke="none" stroke-width="1"/>
<circle cx="67.50" cy="370.80" r="2.1" fill="#000" stroke="none" stroke-width="1"/>
<circle cx="80.75" cy="371.20" r="2.1" fill="#000" stroke="none" stroke-width="1"/>
<circle cx="94.00" cy="373.00" r="2.1" fill="#000" stroke="none" stroke-width="1"/>
<circle cx="107.25" cy="373.80" r="2.1" fill="#000" stroke="none" stroke-width="1"/>
<circle cx="120.50" cy="372.80" r="2.1" fill="#000" stroke="none" stroke-width="1"/>
<circle cx="133.75" cy="373.50" r="2.1" fill="#000" stroke="none" stroke-width="1"/>
<circle cx="147.00" cy="373.30" r="2.1" fill="#000" stroke="none" stroke-width="1"/>
<circle cx="160.25" cy="373.30" r="2.1" fill="#000" stroke="none" stroke-width="1"/>
<line x1="41.00" y1="317.40" x2="41.00" y2="324.00" stroke="#e85a5a" stroke-width="0.9" />
<line x1="38.50" y1="317.40" x2="43.50" y2="317.40" stroke="#e85a5a" stroke-width="0.9" />
<line x1="38.50" y1="324.00" x2="43.50" y2="324.00" stroke="#e85a5a" stroke-width="0.9" />
<line x1="54.25" y1="315.40" x2="54.25" y2="324.50" stroke="#e85a5a" stroke-width="0.9" />
<line x1="51.75" y1="315.40" x2="56.75" y2="315.40" stroke="#e85a5a" stroke-width="0.9" />
<line x1="51.75" y1="324.50" x2="56.75" y2="324.50" stroke="#e85a5a" stroke-width="0.9" />
<line x1="67.50" y1="292.00" x2="67.50" y2="311.00" stroke="#e85a5a" stroke-width="0.9" />
<line x1="65.00" y1="292.00" x2="70.00" y2="292.00" stroke="#e85a5a" stroke-width="0.9" />
<line x1="65.00" y1="311.00" x2="70.00" y2="311.00" stroke="#e85a5a" stroke-width="0.9" />
<line x1="80.75" y1="296.40" x2="80.75" y2="304.50" stroke="#e85a5a" stroke-width="0.9" />
<line x1="78.25" y1="296.40" x2="83.25" y2="296.40" stroke="#e85a5a" stroke-width="0.9" />
<line x1="78.25" y1="304.50" x2="83.25" y2="304.50" stroke="#e85a5a" stroke-width="0.9" />
<line x1="94.00" y1="322.00" x2="94.00" y2="333.20" stroke="#e85a5a" stroke-width="0.9" />
<line x1="91.50" y1="322.00" x2="96.50" y2="322.00" stroke="#e85a5a" stroke-width="0.9" />
<line x1="91.50" y1="333.20" x2="96.50" y2="333.20" stroke="#e85a5a" stroke-width="0.9" />
<line x1="107.25" y1="313.00" x2="107.25" y2="324.20" stroke="#e85a5a" stroke-width="0.9" />
<line x1="104.75" y1="313.00" x2="109.75" y2="313.00" stroke="#e85a5a" stroke-width="0.9" />
<line x1="104.75" y1="324.20" x2="109.75" y2="324.20" stroke="#e85a5a" stroke-width="0.9" />
<line x1="120.50" y1="325.70" x2="120.50" y2="337.70" stroke="#e85a5a" stroke-width="0.9" />
<line x1="118.00" y1="325.70" x2="123.00" y2="325.70" stroke="#e85a5a" stroke-width="0.9" />
<line x1="118.00" y1="337.70" x2="123.00" y2="337.70" stroke="#e85a5a" stroke-width="0.9" />
<line x1="133.75" y1="314.70" x2="133.75" y2="324.80" stroke="#e85a5a" stroke-width="0.9" />
<line x1="131.25" y1="314.70" x2="136.25" y2="314.70" stroke="#e85a5a" stroke-width="0.9" />
<line x1="131.25" y1="324.80" x2="136.25" y2="324.80" stroke="#e85a5a" stroke-width="0.9" />
<line x1="147.00" y1="328.50" x2="147.00" y2="336.80" stroke="#e85a5a" stroke-width="0.9" />
<line x1="144.50" y1="328.50" x2="149.50" y2="328.50" stroke="#e85a5a" stroke-width="0.9" />
<line x1="144.50" y1="336.80" x2="149.50" y2="336.80" stroke="#e85a5a" stroke-width="0.9" />
<line x1="160.25" y1="326.70" x2="160.25" y2="341.30" stroke="#e85a5a" stroke-width="0.9" />
<line x1="157.75" y1="326.70" x2="162.75" y2="326.70" stroke="#e85a5a" stroke-width="0.9" />
<line x1="157.75" y1="341.30" x2="162.75" y2="341.30" stroke="#e85a5a" stroke-width="0.9" />
<polyline points="41.00,321.50 54.25,321.50 67.50,301.70 80.75,300.20 94.00,328.20 107.25,319.20 120.50,331.80 133.75,320.30 147.00,332.70 160.25,334.20" fill="none" stroke="#e31a1a" stroke-width="2.0" stroke-linejoin="round" />
<polygon points="41.00,318.91 38.60,323.23 43.40,323.23" fill="#ee5050" stroke="#e31a1a" stroke-width="1.2" stroke-linejoin="miter"/>
<polygon points="54.25,318.91 51.85,323.23 56.65,323.23" fill="#ee5050" stroke="#e31a1a" stroke-width="1.2" stroke-linejoin="miter"/>
<polygon points="67.50,299.11 65.10,303.43 69.90,303.43" fill="#ee5050" stroke="#e31a1a" stroke-width="1.2" stroke-linejoin="miter"/>
<polygon points="80.75,297.61 78.35,301.93 83.15,301.93" fill="#ee5050" stroke="#e31a1a" stroke-width="1.2" stroke-linejoin="miter"/>
<polygon points="94.00,325.61 91.60,329.93 96.40,329.93" fill="#ee5050" stroke="#e31a1a" stroke-width="1.2" stroke-linejoin="miter"/>
<polygon points="107.25,316.61 104.85,320.93 109.65,320.93" fill="#ee5050" stroke="#e31a1a" stroke-width="1.2" stroke-linejoin="miter"/>
<polygon points="120.50,329.21 118.10,333.53 122.90,333.53" fill="#ee5050" stroke="#e31a1a" stroke-width="1.2" stroke-linejoin="miter"/>
<polygon points="133.75,317.71 131.35,322.03 136.15,322.03" fill="#ee5050" stroke="#e31a1a" stroke-width="1.2" stroke-linejoin="miter"/>
<polygon points="147.00,330.11 144.60,334.43 149.40,334.43" fill="#ee5050" stroke="#e31a1a" stroke-width="1.2" stroke-linejoin="miter"/>
<polygon points="160.25,331.61 157.85,335.93 162.65,335.93" fill="#ee5050" stroke="#e31a1a" stroke-width="1.2" stroke-linejoin="miter"/>
<line x1="41.00" y1="331.40" x2="41.00" y2="345.80" stroke="#4a4ae8" stroke-width="0.9" />
<line x1="38.50" y1="331.40" x2="43.50" y2="331.40" stroke="#4a4ae8" stroke-width="0.9" />
<line x1="38.50" y1="345.80" x2="43.50" y2="345.80" stroke="#4a4ae8" stroke-width="0.9" />
<line x1="54.25" y1="322.00" x2="54.25" y2="336.20" stroke="#4a4ae8" stroke-width="0.9" />
<line x1="51.75" y1="322.00" x2="56.75" y2="322.00" stroke="#4a4ae8" stroke-width="0.9" />
<line x1="51.75" y1="336.20" x2="56.75" y2="336.20" stroke="#4a4ae8" stroke-width="0.9" />
<line x1="67.50" y1="298.40" x2="67.50" y2="315.20" stroke="#4a4ae8" stroke-width="0.9" />
<line x1="65.00" y1="298.40" x2="70.00" y2="298.40" stroke="#4a4ae8" stroke-width="0.9" />
<line x1="65.00" y1="315.20" x2="70.00" y2="315.20" stroke="#4a4ae8" stroke-width="0.9" />
<line x1="80.75" y1="305.00" x2="80.75" y2="310.50" stroke="#4a4ae8" stroke-width="0.9" />
<line x1="78.25" y1="305.00" x2="83.25" y2="305.00" stroke="#4a4ae8" stroke-width="0.9" />
<line x1="78.25" y1="310.50" x2="83.25" y2="310.50" stroke="#4a4ae8" stroke-width="0.9" />
<line x1="94.00" y1="345.80" x2="94.00" y2="362.00" stroke="#4a4ae8" stroke-width="0.9" />
<line x1="91.50" y1="345.80" x2="96.50" y2="345.80" stroke="#4a4ae8" stroke-width="0.9" />
<line x1="91.50" y1="362.00" x2="96.50" y2="362.00" stroke="#4a4ae8" stroke-width="0.9" />
<line x1="107.25" y1="341.30" x2="107.25" y2="355.70" stroke="#4a4ae8" stroke-width="0.9" />
<line x1="104.75" y1="341.30" x2="109.75" y2="341.30" stroke="#4a4ae8" stroke-width="0.9" />
<line x1="104.75" y1="355.70" x2="109.75" y2="355.70" stroke="#4a4ae8" stroke-width="0.9" />
<line x1="120.50" y1="356.60" x2="120.50" y2="366.50" stroke="#4a4ae8" stroke-width="0.9" />
<line x1="118.00" y1="356.60" x2="123.00" y2="356.60" stroke="#4a4ae8" stroke-width="0.9" />
<line x1="118.00" y1="366.50" x2="123.00" y2="366.50" stroke="#4a4ae8" stroke-width="0.9" />
<line x1="133.75" y1="350.80" x2="133.75" y2="362.50" stroke="#4a4ae8" stroke-width="0.9" />
<line x1="131.25" y1="350.80" x2="136.25" y2="350.80" stroke="#4a4ae8" stroke-width="0.9" />
<line x1="131.25" y1="362.50" x2="136.25" y2="362.50" stroke="#4a4ae8" stroke-width="0.9" />
<line x1="147.00" y1="358.80" x2="147.00" y2="367.00" stroke="#4a4ae8" stroke-width="0.9" />
<line x1="144.50" y1="358.80" x2="149.50" y2="358.80" stroke="#4a4ae8" stroke-width="0.9" />
<line x1="144.50" y1="367.00" x2="149.50" y2="367.00" stroke="#4a4ae8" stroke-width="0.9" />
<line x1="160.25" y1="363.70" x2="160.25" y2="369.30" stroke="#4a4ae8" stroke-width="0.9" />
<line x1="157.75" y1="363.70" x2="162.75" y2="363.70" stroke="#4a4ae8" stroke-width="0.9" />
<line x1="157.75" y1="369.30" x2="162.75" y2="369.30" stroke="#4a4ae8" stroke-width="0.9" />
<polyline points="41.00,338.60 54.25,329.00 67.50,307.00 80.75,308.30 94.00,353.90 107.25,348.50 120.50,361.10 133.75,356.40 147.00,362.30 160.25,366.90" fill="none" stroke="#1a1ae0" stroke-width="2.0" stroke-linejoin="round" />
<rect x="39.00" y="336.60" width="4.00" height="4.00" fill="#a8a8f8" stroke="#1a1ae0" stroke-width="1.2" />
<rect x="52.25" y="327.00" width="4.00" height="4.00" fill="#a8a8f8" stroke="#1a1ae0" stroke-width="1.2" />
<rect x="65.50" y="305.00" width="4.00" height="4.00" fill="#a8a8f8" stroke="#1a1ae0" stroke-width="1.2" />
<rect x="78.75" y="306.30" width="4.00" height="4.00" fill="#a8a8f8" stroke="#1a1ae0" stroke-width="1.2" />
<rect x="92.00" y="351.90" width="4.00" height="4.00" fill="#a8a8f8" stroke="#1a1ae0" stroke-width="1.2" />
<rect x="105.25" y="346.50" width="4.00" height="4.00" fill="#a8a8f8" stroke="#1a1ae0" stroke-width="1.2" />
<rect x="118.50" y="359.10" width="4.00" height="4.00" fill="#a8a8f8" stroke="#1a1ae0" stroke-width="1.2" />
<rect x="131.75" y="354.40" width="4.00" height="4.00" fill="#a8a8f8" stroke="#1a1ae0" stroke-width="1.2" />
<rect x="145.00" y="360.30" width="4.00" height="4.00" fill="#a8a8f8" stroke="#1a1ae0" stroke-width="1.2" />
<rect x="158.25" y="364.90" width="4.00" height="4.00" fill="#a8a8f8" stroke="#1a1ae0" stroke-width="1.2" />
<text x="93.80" y="341.40" font-size="8.0" text-anchor="middle" font-weight="normal" fill="#222" stroke="#222" stroke-width="0.22" letter-spacing="-0.9" style="stroke-width:0.2px">#</text>
<text x="107.40" y="339.60" font-size="8.0" text-anchor="middle" font-weight="normal" fill="#222" stroke="#222" stroke-width="0.22" letter-spacing="-0.9" style="stroke-width:0.2px">##</text>
<text x="120.80" y="353.10" font-size="8.0" text-anchor="middle" font-weight="normal" fill="#222" stroke="#222" stroke-width="0.22" letter-spacing="-0.9" style="stroke-width:0.2px">##</text>
<text x="134.60" y="346.80" font-size="8.0" text-anchor="middle" font-weight="normal" fill="#222" stroke="#222" stroke-width="0.22" letter-spacing="-0.9" style="stroke-width:0.2px">###</text>
<text x="146.90" y="355.60" font-size="8.0" text-anchor="middle" font-weight="normal" fill="#222" stroke="#222" stroke-width="0.22" letter-spacing="-0.9" style="stroke-width:0.2px">##</text>
<text x="160.60" y="359.00" font-size="8.0" text-anchor="middle" font-weight="normal" fill="#222" stroke="#222" stroke-width="0.22" letter-spacing="-0.9" style="stroke-width:0.2px">##</text>
<text x="175.30" y="266.40" font-size="10.5" text-anchor="start" font-weight="bold" fill="#111" stroke="#111" stroke-width="0.0" >E</text>
<text x="265.90" y="262.20" font-size="9.5" text-anchor="middle" font-weight="normal" fill="#1c1c1c" stroke="#1c1c1c" stroke-width="0.3" >Oxycodone Intake</text>
<rect x="215.70" y="269.50" width="8.50" height="8.10" fill="#c6c6c6" stroke="none" stroke-width="1.0" />
<rect x="215.70" y="280.30" width="8.50" height="8.10" fill="#000" stroke="none" stroke-width="1.0" />
<text x="231.20" y="277.60" font-size="8.9" text-anchor="start" font-weight="normal" fill="#1c1c1c" stroke="#1c1c1c" stroke-width="0.3" >Last 2 days before shock</text>
<text x="231.20" y="287.60" font-size="8.9" text-anchor="start" font-weight="normal" fill="#1c1c1c" stroke="#1c1c1c" stroke-width="0.3" >Last 2 days of shock</text>
<text x="0" y="0" font-size="9.3" text-anchor="middle" fill="#1c1c1c" stroke="#1c1c1c" stroke-width="0.3" transform="translate(184.80,325.00) rotate(-90)">Avg. Oxycodone</text>
<text x="0" y="0" font-size="9.3" text-anchor="middle" fill="#1c1c1c" stroke="#1c1c1c" stroke-width="0.3" transform="translate(194.40,325.90) rotate(-90)">(mg / kg / infusion)</text>
<line x1="212.60" y1="281.50" x2="212.60" y2="376.90" stroke="#555" stroke-width="1.1" />
<line x1="211.10" y1="376.90" x2="212.60" y2="376.90" stroke="#555" stroke-width="1.0" />
<text x="210.80" y="380.25" font-size="9.4" text-anchor="end" font-weight="normal" fill="#1c1c1c" stroke="#1c1c1c" stroke-width="0.3" >0</text>
<line x1="211.10" y1="353.05" x2="212.60" y2="353.05" stroke="#555" stroke-width="1.0" />
<text x="210.80" y="356.40" font-size="9.4" text-anchor="end" font-weight="normal" fill="#1c1c1c" stroke="#1c1c1c" stroke-width="0.3" >5</text>
<line x1="211.10" y1="329.20" x2="212.60" y2="329.20" stroke="#555" stroke-width="1.0" />
<text x="210.80" y="332.55" font-size="9.4" text-anchor="end" font-weight="normal" fill="#1c1c1c" stroke="#1c1c1c" stroke-width="0.3" >10</text>
<line x1="211.10" y1="305.35" x2="212.60" y2="305.35" stroke="#555" stroke-width="1.0" />
<text x="210.80" y="308.70" font-size="9.4" text-anchor="end" font-weight="normal" fill="#1c1c1c" stroke="#1c1c1c" stroke-width="0.3" >15</text>
<line x1="211.10" y1="281.50" x2="212.60" y2="281.50" stroke="#555" stroke-width="1.0" />
<text x="210.80" y="284.85" font-size="9.4" text-anchor="end" font-weight="normal" fill="#1c1c1c" stroke="#1c1c1c" stroke-width="0.3" >20</text>
<line x1="229.70" y1="296.30" x2="229.70" y2="301.20" stroke="#333" stroke-width="0.9" />
<line x1="224.20" y1="296.30" x2="235.20" y2="296.30" stroke="#333" stroke-width="0.9" />
<rect x="219.00" y="302.10" width="21.40" height="74.80" fill="#b9b9b9" stroke="none" stroke-width="1.0" />
<polyline points="219.00,376.90 219.00,302.10 240.40,302.10 240.40,376.90" fill="none" stroke="#e31a1a" stroke-width="1.8"  stroke-linejoin="miter"/>
<line x1="257.70" y1="329.30" x2="257.70" y2="334.30" stroke="#333" stroke-width="0.9" />
<line x1="252.20" y1="329.30" x2="263.20" y2="329.30" stroke="#333" stroke-width="0.9" />
<rect x="247.00" y="335.20" width="21.40" height="41.70" fill="#000" stroke="none" stroke-width="1.0" />
<polyline points="247.00,376.90 247.00,335.20 268.40,335.20 268.40,376.90" fill="none" stroke="#e31a1a" stroke-width="1.8"  stroke-linejoin="miter"/>
<line x1="286.20" y1="303.70" x2="286.20" y2="307.90" stroke="#333" stroke-width="0.9" />
<line x1="280.70" y1="303.70" x2="291.70" y2="303.70" stroke="#333" stroke-width="0.9" />
<rect x="275.80" y="308.80" width="20.80" height="68.10" fill="#b9b9b9" stroke="none" stroke-width="1.0" />
<polyline points="275.80,376.90 275.80,308.80 296.60,308.80 296.60,376.90" fill="none" stroke="#1a1ae0" stroke-width="1.8"  stroke-linejoin="miter"/>
<line x1="314.85" y1="361.80" x2="314.85" y2="365.10" stroke="#333" stroke-width="0.9" />
<line x1="309.35" y1="361.80" x2="320.35" y2="361.80" stroke="#333" stroke-width="0.9" />
<rect x="304.60" y="366.00" width="20.50" height="10.90" fill="#000" stroke="none" stroke-width="1.0" />
<polyline points="304.60,376.90 304.60,366.00 325.10,366.00 325.10,376.90" fill="none" stroke="#1a1ae0" stroke-width="1.8"  stroke-linejoin="miter"/>
<line x1="212.60" y1="376.90" x2="330.80" y2="376.90" stroke="#555" stroke-width="1.2" />
<line x1="230.40" y1="376.90" x2="230.40" y2="378.60" stroke="#555" stroke-width="0.8" />
<text x="230.90" y="387.80" font-size="9.0" text-anchor="middle" font-weight="normal" fill="#1c1c1c" stroke="#1c1c1c" stroke-width="0.3" >SR</text>
<line x1="258.40" y1="376.90" x2="258.40" y2="378.60" stroke="#555" stroke-width="0.8" />
<text x="258.90" y="387.80" font-size="9.0" text-anchor="middle" font-weight="normal" fill="#1c1c1c" stroke="#1c1c1c" stroke-width="0.3" >SR</text>
<line x1="285.60" y1="376.90" x2="285.60" y2="378.60" stroke="#555" stroke-width="0.8" />
<text x="286.10" y="387.80" font-size="9.0" text-anchor="middle" font-weight="normal" fill="#1c1c1c" stroke="#1c1c1c" stroke-width="0.3" >SS</text>
<line x1="314.70" y1="376.90" x2="314.70" y2="378.60" stroke="#555" stroke-width="0.8" />
<text x="315.20" y="387.80" font-size="9.0" text-anchor="middle" font-weight="normal" fill="#1c1c1c" stroke="#1c1c1c" stroke-width="0.3" >SS</text>
<polygon points="253.80,322.10 254.50,323.04 255.61,323.41 254.93,324.37 254.92,325.54 253.80,325.19 252.68,325.54 252.67,324.37 251.99,323.41 253.10,323.04" fill="#111"/>
<polygon points="258.20,322.10 258.90,323.04 260.01,323.41 259.33,324.37 259.32,325.54 258.20,325.19 257.08,325.54 257.07,324.37 256.39,323.41 257.50,323.04" fill="#111"/>
<polygon points="262.60,322.10 263.30,323.04 264.41,323.41 263.73,324.37 263.72,325.54 262.60,325.19 261.48,325.54 261.47,324.37 260.79,323.41 261.90,323.04" fill="#111"/>
<text x="314.20" y="353.60" font-size="8.0" text-anchor="middle" font-weight="normal" fill="#222" stroke="#222" stroke-width="0.22" letter-spacing="-0.9" style="stroke-width:0.2px">###</text>
<polygon points="310.60,355.90 311.30,356.84 312.41,357.21 311.73,358.17 311.72,359.34 310.60,358.99 309.48,359.34 309.47,358.17 308.79,357.21 309.90,356.84" fill="#111"/>
<polygon points="315.00,355.90 315.70,356.84 316.81,357.21 316.13,358.17 316.12,359.34 315.00,358.99 313.88,359.34 313.87,358.17 313.19,357.21 314.30,356.84" fill="#111"/>
<polygon points="319.40,355.90 320.10,356.84 321.21,357.21 320.53,358.17 320.52,359.34 319.40,358.99 318.28,359.34 318.27,358.17 317.59,357.21 318.70,356.84" fill="#111"/>
</svg></body></html>
